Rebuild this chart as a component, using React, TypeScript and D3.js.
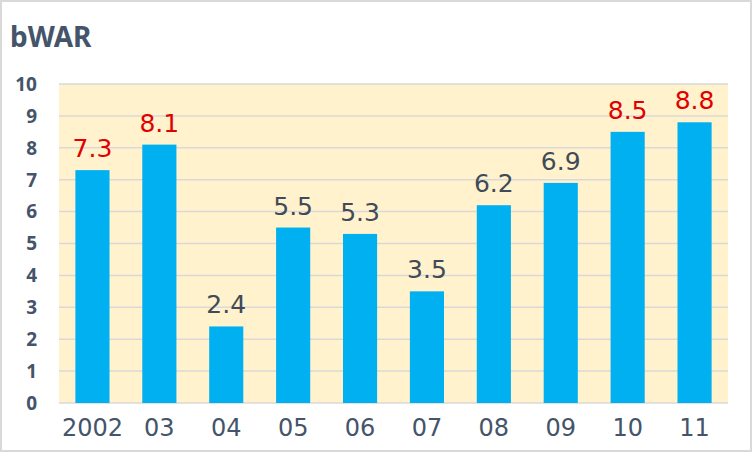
import * as React from 'react';
import * as d3 from 'd3';

const seasons = ['2002', '03', '04', '05', '06', '07', '08', '09', '10', '11'];
const bwar = [7.3, 8.1, 2.4, 5.5, 5.3, 3.5, 6.2, 6.9, 8.5, 8.8];
const yTicks = [0, 1, 2, 3, 4, 5, 6, 7, 8, 9, 10];

const W = 752;
const H = 452;
const margins = {top: 84, right: 24, bottom: 49, left: 59};

export default function App() {
  const ref = React.useRef<SVGSVGElement>(null);

  React.useEffect(() => {
    const svg = d3.select(ref.current);
    svg.selectAll('*').remove();
    const width = W - margins.left - margins.right;
    const height = H - margins.top - margins.bottom;

    svg
      .append('rect')
      .attr('x', 1)
      .attr('y', 1)
      .attr('width', W - 2)
      .attr('height', H - 2)
      .attr('fill', '#fff')
      .attr('stroke', '#d9d9d9')
      .attr('stroke-width', 2);

    svg
      .append('text')
      .attr('x', 10)
      .attr('y', 47)
      .attr('fill', '#44546a')
      .attr('font-family', 'Noto Sans')
      .attr('font-weight', 'bold')
      .attr('font-size', 28)
      .text('bWAR');

    const g = svg
      .append('g')
      .attr('transform', `translate(${margins.left}, ${margins.top})`);

    const x = d3.scaleBand().domain(seasons).range([0, width]).paddingInner(0.49).paddingOuter(0.245);
    const y = d3.scaleLinear().domain([0, 10]).range([height, 0]);

    g.append('rect')
      .attr('width', width)
      .attr('height', height)
      .attr('fill', '#fff2cc');

    g.selectAll('.grid')
      .data(yTicks)
      .enter()
      .append('line')
      .attr('x1', 0)
      .attr('x2', width)
      .attr('y1', d => y(d))
      .attr('y2', d => y(d))
      .attr('stroke', '#d9d9d9')
      .attr('stroke-width', 1.5);

    g.selectAll('.ytick')
      .data(yTicks)
      .enter()
      .append('text')
      .attr('x', -22)
      .attr('y', d => y(d))
      .attr('dy', '0.36em')
      .attr('text-anchor', 'end')
      .attr('fill', '#44546a')
      .attr('font-family', 'Noto Sans')
      .attr('font-weight', 'bold')
      .attr('font-size', 19)
      .text(d => d);

    g.selectAll('.bar')
      .data(bwar)
      .enter()
      .append('rect')
      .attr('x', (d, i) => x(seasons[i]) as number)
      .attr('y', d => y(d))
      .attr('width', x.bandwidth())
      .attr('height', d => height - y(d))
      .attr('fill', '#00b0f0');

    g.selectAll('.label')
      .data(bwar)
      .enter()
      .append('text')
      .attr('x', (d, i) => (x(seasons[i]) as number) + x.bandwidth() / 2)
      .attr('y', d => y(d) - 13)
      .attr('text-anchor', 'middle')
      .attr('fill', d => (d >= 7 ? '#e00000' : '#404a58'))
      .attr('font-family', 'DejaVu Sans')
      .attr('font-size', 25)
      .text(d => d.toFixed(1));

    g.selectAll('.xtick')
      .data(seasons)
      .enter()
      .append('text')
      .attr('x', d => (x(d) as number) + x.bandwidth() / 2)
      .attr('y', height + 33)
      .attr('text-anchor', 'middle')
      .attr('fill', '#44546a')
      .attr('font-family', 'DejaVu Sans')
      .attr('font-size', 24)
      .text(d => d);
  }, []);

  return (
    <svg
      ref={ref}
      width={W}
      height={H}
      style={{position: 'absolute', left: 0, top: 0}}
    />
  );
}
